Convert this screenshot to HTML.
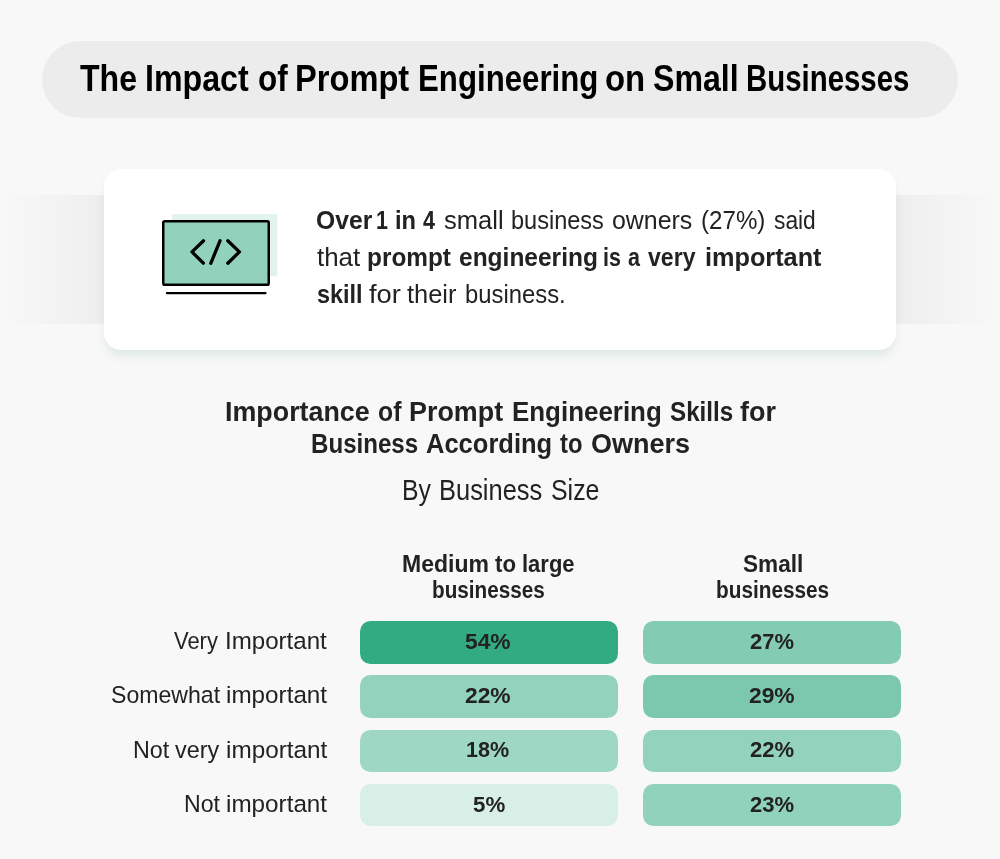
<!DOCTYPE html>
<html lang="en"><head><meta charset="utf-8"><title>The Impact of Prompt Engineering on Small Businesses</title>
<style>
html,body{margin:0;padding:0;background:#f8f8f8}
body{width:1000px;height:859px;position:relative;overflow:hidden;background:#f8f8f8;font-family:"Liberation Sans",Arial,sans-serif}
.ln{position:absolute;left:0;margin:0;padding:0;width:1000px;font-weight:400;white-space:pre}
.ln span,.ln b{position:absolute;top:0;display:block;transform-origin:0 50%;white-space:pre}
.title,.head,.col,.pct{font-weight:700}
.para b{font-weight:700}
.pill{position:absolute;left:42.2px;top:40.6px;width:915.4px;height:77.4px;border-radius:39px;background:#ececec}
.band{position:absolute;left:0;top:194.7px;width:1000px;height:129px;background:linear-gradient(90deg,rgba(238,238,238,0) 0,#eee 10.4%,#eee 89.6%,rgba(238,238,238,0) 100%)}
.card{position:absolute;left:104px;top:168.6px;width:792.2px;height:181.8px;border-radius:17px;background:#fff;box-shadow:0 7px 12px -3px rgba(95,160,145,.22)}
.bar{position:absolute;border-radius:10.5px}
svg.icon{position:absolute;left:150px;top:200px}
</style></head><body>
<div class="pill"></div>
<div class="band"></div>
<div class="card"></div>
<svg class="icon" width="140" height="105" viewBox="150 200 140 105" fill="none">
<rect x="172.2" y="214" width="105.2" height="62.2" fill="#e2f3ee"/>
<rect x="163.25" y="221.25" width="105.5" height="63.5" rx="1.6" fill="#92d2bc" stroke="#000" stroke-width="2.5"/>
<path d="M166.9 293.1H265.5" stroke="#000" stroke-width="2.3" stroke-linecap="round"/>
<path d="M203.5 240.8L192 251.9L203.3 263.2M220 240.8L210.8 263.3M227.8 240.8L239.4 251.9L227.8 263.2" stroke="#000" stroke-width="3.3" stroke-linecap="round" stroke-linejoin="round"/>
</svg>
<div class="bar" style="left:359.5px;top:621px;width:258.0px;height:42.7px;background:#32ab83"></div>
<div class="bar" style="left:359.5px;top:675.3px;width:258.0px;height:42.7px;background:#93d3bd"></div>
<div class="bar" style="left:359.5px;top:729.5px;width:258.0px;height:42.7px;background:#9ed7c4"></div>
<div class="bar" style="left:359.5px;top:783.7px;width:258.0px;height:42.7px;background:#d8efe7"></div>
<div class="bar" style="left:643.4px;top:621px;width:258.0px;height:42.7px;background:#83cbb3"></div>
<div class="bar" style="left:643.4px;top:675.3px;width:258.0px;height:42.7px;background:#7cc8af"></div>
<div class="bar" style="left:643.4px;top:729.5px;width:258.0px;height:42.7px;background:#93d3bd"></div>
<div class="bar" style="left:643.4px;top:783.7px;width:258.0px;height:42.7px;background:#90d2bb"></div>
<h1 class="ln title" style="top:57px;font-size:36.34px;line-height:43px;color:#000"><span style="left:79.50px;transform:scaleX(0.8835)">The</span> <span style="left:145.23px;transform:scaleX(0.8853)">Impact</span> <span style="left:257.53px;transform:scaleX(0.8657)">of</span> <span style="left:295.00px;transform:scaleX(0.8980)">Prompt</span> <span style="left:418.28px;transform:scaleX(0.8594)">Engineering</span> <span style="left:604.99px;transform:scaleX(0.9055)">on</span> <span style="left:653.02px;transform:scaleX(0.8835)">Small</span> <span style="left:746.38px;transform:scaleX(0.8091)">Businesses</span></h1>
<p class="ln para" style="top:205px;font-size:25.58px;line-height:30px;color:#222"><b style="left:315.83px;transform:scaleX(0.9661)">Over</b> <b style="left:375.90px;transform:scaleX(0.8400)">1</b> <b style="left:394.58px;transform:scaleX(0.9239)">in</b> <b style="left:423.40px;transform:scaleX(0.8400)">4</b> <span style="left:444.10px;transform:scaleX(0.9982)">small</span> <span style="left:510.68px;transform:scaleX(0.9197)">business</span> <span style="left:612.03px;transform:scaleX(0.9732)">owners</span> <span style="left:700.56px;transform:scaleX(0.9435)">(27%)</span> <span style="left:774.00px;transform:scaleX(0.8906)">said</span></p>
<p class="ln para" style="top:242px;font-size:25.58px;line-height:30px;color:#222"><span style="left:316.60px;transform:scaleX(1.0128)">that</span> <b style="left:367.05px;transform:scaleX(0.9535)">prompt</b> <b style="left:459.44px;transform:scaleX(0.9583)">engineering</b> <b style="left:603.32px;transform:scaleX(0.8400)">is</b> <b style="left:628.40px;transform:scaleX(0.8400)">a</b> <b style="left:648.00px;transform:scaleX(0.9025)">very</b> <b style="left:705.01px;transform:scaleX(0.9879)">important</b></p>
<p class="ln para" style="top:279px;font-size:25.58px;line-height:30px;color:#222"><b style="left:316.70px;transform:scaleX(0.9165)">skill</b> <span style="left:368.90px;transform:scaleX(1.0682)">for</span> <span style="left:407.20px;transform:scaleX(0.9932)">their</span> <span style="left:465.07px;transform:scaleX(0.9319)">business.</span></p>
<h2 class="ln head" style="top:395px;font-size:28.05px;line-height:33px;color:#222"><span style="left:224.64px;transform:scaleX(0.9574)">Importance</span> <span style="left:378.12px;transform:scaleX(0.8840)">of</span> <span style="left:409.44px;transform:scaleX(0.9584)">Prompt</span> <span style="left:512.48px;transform:scaleX(0.9241)">Engineering</span> <span style="left:669.70px;transform:scaleX(0.8627)">Skills</span> <span style="left:740.40px;transform:scaleX(0.9607)">for</span></h2>
<h2 class="ln head" style="top:427px;font-size:28.05px;line-height:33px;color:#222"><span style="left:311.24px;transform:scaleX(0.8594)">Business</span> <span style="left:426.40px;transform:scaleX(0.9095)">According</span> <span style="left:560.00px;transform:scaleX(0.8504)">to</span> <span style="left:591.04px;transform:scaleX(0.9627)">Owners</span></h2>
<h3 class="ln sub" style="top:473px;font-size:29.07px;line-height:34px;color:#222"><span style="left:401.80px;transform:scaleX(0.8523)">By</span> <span style="left:438.75px;transform:scaleX(0.8761)">Business</span> <span style="left:550.64px;transform:scaleX(0.8571)">Size</span></h3>
<div class="ln col" style="top:549px;font-size:23.98px;line-height:29px;color:#222"><span style="left:402.04px;transform:scaleX(0.9599)">Medium</span> <span style="left:495.30px;transform:scaleX(0.9280)">to</span> <span style="left:521.78px;transform:scaleX(0.9168)">large</span></div>
<div class="ln col" style="top:575px;font-size:23.98px;line-height:29px;color:#222"><span style="left:432.14px;transform:scaleX(0.8628)">businesses</span></div>
<div class="ln col" style="top:549px;font-size:23.98px;line-height:29px;color:#222"><span style="left:742.90px;transform:scaleX(0.9424)">Small</span></div>
<div class="ln col" style="top:575px;font-size:23.98px;line-height:29px;color:#222"><span style="left:715.93px;transform:scaleX(0.8666)">businesses</span></div>
<div class="ln row" style="top:627px;font-size:23.69px;line-height:28px;color:#222"><span style="left:174.40px;transform:scaleX(0.9253)">Very</span> <span style="left:225.47px;transform:scaleX(1.0175)">Important</span></div>
<div class="ln row" style="top:681px;font-size:23.69px;line-height:28px;color:#222"><span style="left:110.53px;transform:scaleX(0.9746)">Somewhat</span> <span style="left:226.18px;transform:scaleX(1.0238)">important</span></div>
<div class="ln row" style="top:736px;font-size:23.69px;line-height:28px;color:#222"><span style="left:132.62px;transform:scaleX(0.9840)">Not</span> <span style="left:175.20px;transform:scaleX(0.9865)">very</span> <span style="left:225.97px;transform:scaleX(1.0259)">important</span></div>
<div class="ln row" style="top:790px;font-size:23.69px;line-height:28px;color:#222"><span style="left:183.62px;transform:scaleX(0.9757)">Not</span> <span style="left:226.18px;transform:scaleX(1.0238)">important</span></div>
<div class="ln pct" style="top:628px;font-size:22.38px;line-height:27px;color:#222"><span style="left:465.20px;transform:scaleX(1.0181)">54%</span></div>
<div class="ln pct" style="top:682px;font-size:22.38px;line-height:27px;color:#222"><span style="left:465.20px;transform:scaleX(1.0181)">22%</span></div>
<div class="ln pct" style="top:736px;font-size:22.38px;line-height:27px;color:#222"><span style="left:465.94px;transform:scaleX(0.9638)">18%</span></div>
<div class="ln pct" style="top:791px;font-size:22.38px;line-height:27px;color:#222"><span style="left:472.50px;transform:scaleX(0.9956)">5%</span></div>
<div class="ln pct" style="top:628px;font-size:22.38px;line-height:27px;color:#222"><span style="left:749.80px;transform:scaleX(0.9802)">27%</span></div>
<div class="ln pct" style="top:682px;font-size:22.38px;line-height:27px;color:#222"><span style="left:748.90px;transform:scaleX(1.0181)">29%</span></div>
<div class="ln pct" style="top:736px;font-size:22.38px;line-height:27px;color:#222"><span style="left:749.80px;transform:scaleX(0.9847)">22%</span></div>
<div class="ln pct" style="top:791px;font-size:22.38px;line-height:27px;color:#222"><span style="left:749.80px;transform:scaleX(0.9847)">23%</span></div>
</body></html>
